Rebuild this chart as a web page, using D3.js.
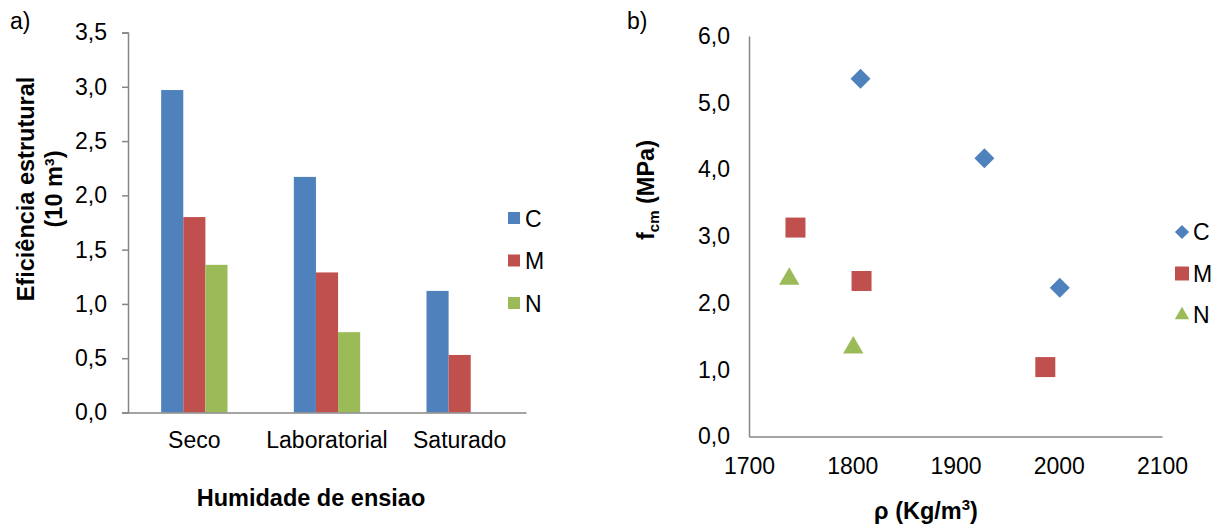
<!DOCTYPE html>
<html>
<head>
<meta charset="utf-8">
<script src="https://cdn.jsdelivr.net/npm/d3@7"></script>
<style>
  body { margin: 0; background: #fff; }
  svg text { font-family: "Liberation Sans", Arial, sans-serif; fill: #000; }
</style>
</head>
<body>
<svg id="chart" width="1215" height="526"></svg>
<script>
// painel a) eficiência estrutural
const categorias = ["Seco", "Laboratorial", "Saturado"];
const series = ["C", "M", "N"];
const valC = [2.97, 2.17, 1.12];
const valM = [1.80, 1.29, 0.53];
const valN = [1.36, 0.74, null];
const yTicksA = [0, 0.5, 1, 1.5, 2, 2.5, 3, 3.5];

// painel b) fcm vs densidade
const rhoC = [1808, 1928, 2001];
const fcmC = [5.36, 4.17, 2.23];
const rhoM = [1745, 1809, 1987];
const fcmM = [3.13, 2.33, 1.04];
const rhoN = [1739, 1801];
const fcmN = [2.36, 1.33];
const xTicksB = [1700, 1800, 1900, 2000, 2100];
const yTicksB = [0, 1, 2, 3, 4, 5, 6];

const cores = { C: "#4F81BD", M: "#C0504D", N: "#9BBB59" };
const eixo = "#868686";
const fs = 23;   // tamanho do texto normal
const fsB = 23.5; // títulos em negrito

const pt = d3.formatLocale({ decimal: ",", thousands: ".", grouping: [3], currency: ["", ""] });
const f1 = pt.format(".1f");

const svg = d3.select("#chart");

function estilo(g) {
  g.select(".domain").attr("stroke", eixo).attr("stroke-width", 1.5);
  g.selectAll(".tick line").attr("stroke", eixo).attr("stroke-width", 1.5);
  g.selectAll(".tick text").attr("font-size", fs).style("font-family", "'Liberation Sans', Arial, sans-serif");
}

// ---------- a) ----------
const gA = svg.append("g");
const x0 = d3.scaleBand().domain(categorias).range([128, 526]);
const x1 = d3.scaleBand().domain(series).range([x0.bandwidth() * 0.25, x0.bandwidth() * 0.75]);
const yA = d3.scaleLinear().domain([0, 3.5]).range([412.5, 32.5]);

const linhas = categorias.map((c, i) => ({ cat: c, C: valC[i], M: valM[i], N: valN[i] }));

gA.selectAll("g.grupo")
  .data(linhas)
  .join("g")
  .attr("class", "grupo")
  .attr("transform", d => `translate(${x0(d.cat)},0)`)
  .selectAll("rect")
  .data(d => series.filter(s => d[s] != null).map(s => ({ s, v: d[s] })))
  .join("rect")
  .attr("x", d => x1(d.s))
  .attr("width", x1.bandwidth())
  .attr("y", d => yA(d.v))
  .attr("height", d => yA(0) - yA(d.v))
  .attr("fill", d => cores[d.s]);

gA.append("g")
  .attr("transform", "translate(128,0)")
  .call(d3.axisLeft(yA).tickValues(yTicksA).tickFormat(f1).tickSizeOuter(0).tickSize(6).tickPadding(15))
  .call(estilo);

gA.append("g")
  .attr("transform", "translate(0,412.5)")
  .call(d3.axisBottom(x0).tickSize(0).tickSizeOuter(0).tickPadding(19))
  .call(estilo);

gA.append("text")
  .attr("x", 311).attr("y", 506)
  .attr("text-anchor", "middle")
  .attr("font-size", fsB).attr("font-weight", "bold")
  .text("Humidade de ensiao");

const tituloY = gA.append("text")
  .attr("transform", "translate(34,189) rotate(-90)")
  .attr("text-anchor", "middle")
  .attr("font-size", fsB).attr("font-weight", "bold");
tituloY.append("tspan").attr("x", 0).attr("dy", 0).text("Eficiência estrutural");
tituloY.append("tspan").attr("x", 0).attr("dy", 28).text("(10 m³)");

gA.append("text").attr("x", 10).attr("y", 29).attr("font-size", fs).text("a)");

const legA = gA.selectAll("g.legA")
  .data(series)
  .join("g")
  .attr("class", "legA")
  .attr("transform", (d, i) => `translate(508,${218 + i * 42.5})`);
legA.append("rect").attr("x", 0).attr("y", -6).attr("width", 12).attr("height", 12)
  .attr("fill", d => cores[d]);
legA.append("text").attr("x", 17).attr("y", 8.5).attr("font-size", fs).text(d => d);

// ---------- b) ----------
const gB = svg.append("g");
const xB = d3.scaleLinear().domain([1700, 2100]).range([749, 1162]);
const yB = d3.scaleLinear().domain([0, 6]).range([436.5, 36]);

gB.append("g")
  .attr("transform", "translate(749,0)")
  .call(d3.axisLeft(yB).tickValues(yTicksB).tickFormat(f1).tickSize(0).tickSizeOuter(0).tickPadding(19))
  .call(estilo);

gB.append("g")
  .attr("transform", "translate(0,436.5)")
  .call(d3.axisBottom(xB).tickValues(xTicksB).tickFormat(d3.format("d")).tickSize(0).tickSizeOuter(0).tickPadding(21))
  .call(estilo);

const simbolos = {
  C: d3.symbol().type(d3.symbolSquare).size(200),
  M: d3.symbol().type(d3.symbolSquare).size(400),
  N: d3.symbol().type(d3.symbolTriangle).size(180)
};
const rotacao = { C: 45, M: 0, N: 0 };

const pontos = [
  ...rhoC.map((r, i) => ({ s: "C", x: r, y: fcmC[i] })),
  ...rhoM.map((r, i) => ({ s: "M", x: r, y: fcmM[i] })),
  ...rhoN.map((r, i) => ({ s: "N", x: r, y: fcmN[i] }))
];

gB.selectAll("path.ponto")
  .data(pontos)
  .join("path")
  .attr("class", "ponto")
  .attr("d", d => simbolos[d.s]())
  .attr("transform", d => `translate(${xB(d.x)},${yB(d.y)}) rotate(${rotacao[d.s]})`)
  .attr("fill", d => cores[d.s]);

const tituloYB = gB.append("text")
  .attr("transform", "translate(654,190) rotate(-90)")
  .attr("text-anchor", "middle")
  .attr("font-size", fsB).attr("font-weight", "bold");
tituloYB.append("tspan").text("f");
tituloYB.append("tspan").attr("font-size", 15).attr("dy", 5).text("cm");
tituloYB.append("tspan").attr("dy", -5).text(" (MPa)");

const tituloXB = gB.append("text")
  .attr("x", 926).attr("y", 519)
  .attr("text-anchor", "middle")
  .attr("font-size", fsB).attr("font-weight", "bold");
tituloXB.append("tspan").text("ρ (Kg/m");
tituloXB.append("tspan").attr("font-size", 15).attr("dy", -9).text("3");
tituloXB.append("tspan").attr("dy", 9).text(")");

gB.append("text").attr("x", 627).attr("y", 29).attr("font-size", fs).text("b)");

const simbLeg = {
  C: d3.symbol().type(d3.symbolSquare).size(100),
  M: d3.symbol().type(d3.symbolSquare).size(196),
  N: d3.symbol().type(d3.symbolTriangle).size(90)
};
const legB = gB.selectAll("g.legB")
  .data(series)
  .join("g")
  .attr("class", "legB")
  .attr("transform", (d, i) => `translate(1182,${232 + i * 41.5})`);
legB.append("path")
  .attr("d", d => simbLeg[d]())
  .attr("transform", d => `rotate(${rotacao[d]})`)
  .attr("fill", d => cores[d]);
legB.append("text").attr("x", 11).attr("y", 8).attr("font-size", fs).text(d => d);
</script>
</body>
</html>
